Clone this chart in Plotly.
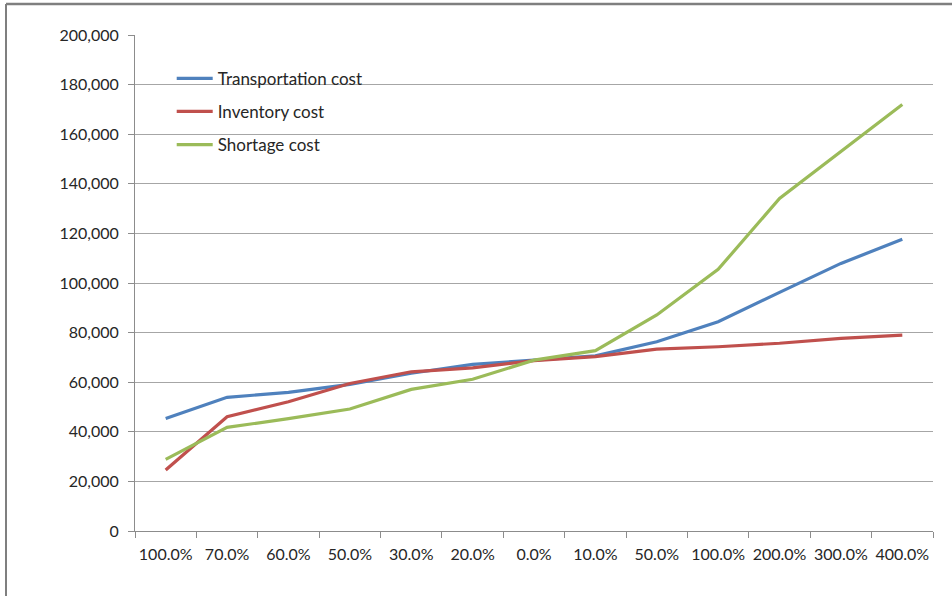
import plotly.graph_objects as go

# Scenario labels along the horizontal axis (demand change)
categories = ["100.0%", "70.0%", "60.0%", "50.0%", "30.0%", "20.0%", "0.0%",
              "10.0%", "50.0%", "100.0%", "200.0%", "300.0%", "400.0%"]

transportation_cost = [45400, 53900, 55900, 59100, 63600, 67200, 68900,
                       70600, 76300, 84400, 96200, 107900, 117600]
inventory_cost = [24600, 46100, 52100, 59500, 64200, 65800, 68700,
                  70300, 73300, 74300, 75700, 77700, 79000]
shortage_cost = [28900, 41800, 45300, 49200, 57100, 61200, 68900,
                 72700, 87100, 105500, 134100, 152900, 172000]

y_ticks = list(range(0, 200001, 20000))

FONT = "Lato"
AXIS_GREY = "#8c8c8c"
GRID_GREY = "#a6a6a6"
TEXT = "#262626"

positions = list(range(len(categories)))
boundaries = [p - 0.5 for p in positions] + [positions[-1] + 0.5]

series = [
    ("Transportation cost", transportation_cost, "#4F81BD"),
    ("Inventory cost", inventory_cost, "#C0504D"),
    ("Shortage cost", shortage_cost, "#9BBB59"),
]

fig = go.Figure()
for i, (name, values, color) in enumerate(series):
    fig.add_trace(go.Scatter(
        x=positions, y=values, name=name, mode="lines",
        line=dict(color=color, width=3.2),
        legendgroup=f"g{i}",
    ))

fig.update_layout(
    width=952, height=596,
    margin=dict(l=135, r=19, t=35, b=65),
    paper_bgcolor="white", plot_bgcolor="white",
    font=dict(family=FONT, size=16, color=TEXT),
    showlegend=True,
    legend=dict(
        x=0.046, y=0.948, xanchor="left", yanchor="top",
        bgcolor="rgba(0,0,0,0)", traceorder="grouped", tracegroupgap=8,
        itemwidth=36,
        font=dict(family=FONT, size=17, color=TEXT),
    ),
    xaxis=dict(
        range=[-0.5, len(categories) - 0.5],
        tickvals=positions, ticktext=categories,
        ticks="", showgrid=False, zeroline=False,
        showline=True, linecolor=AXIS_GREY, linewidth=1,
        tickfont=dict(family=FONT, size=16, color=TEXT),
        ticklabelstandoff=9,
        minor=dict(tickvals=boundaries, ticks="outside", ticklen=6,
                   tickcolor=AXIS_GREY, showgrid=False),
    ),
    yaxis=dict(
        range=[0, 200000], tickvals=y_ticks, tickformat=",",
        ticks="outside", ticklen=6, tickcolor=AXIS_GREY,
        showgrid=True, gridcolor=GRID_GREY, gridwidth=1,
        zeroline=False, showline=True, linecolor=AXIS_GREY, linewidth=1,
        tickfont=dict(family=FONT, size=16, color=TEXT),
        ticklabelstandoff=6,
    ),
)

# Frame lines along the top and left of the chart area
fig.add_shape(type="line", xref="paper", yref="paper",
              x0=-129 / 798, x1=817 / 798, y0=527 / 496, y1=527 / 496,
              line=dict(color="#7f7f7f", width=2.5))
fig.add_shape(type="line", xref="paper", yref="paper",
              x0=-129 / 798, x1=-129 / 798, y0=527 / 496, y1=-65 / 496,
              line=dict(color="#7f7f7f", width=2))

fig.write_html("out.html")
